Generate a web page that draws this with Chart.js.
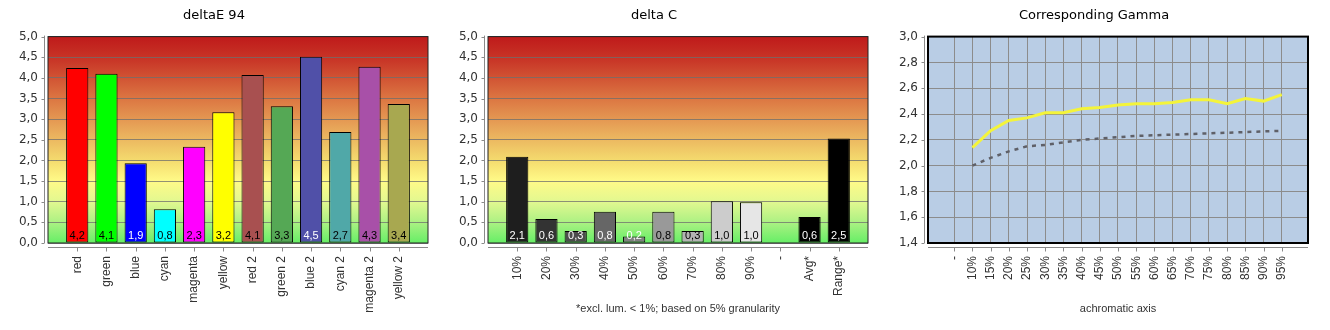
<!DOCTYPE html>
<html>
<head>
<meta charset="utf-8">
<script src="https://cdn.jsdelivr.net/npm/chart.js@4.4.0/dist/chart.umd.min.js"></script>
<style>
  body { margin: 0; background: #fff; width: 1330px; height: 330px; overflow: hidden; position: relative; }
  canvas { position: absolute; top: 0; }
</style>
</head>
<body>
<canvas id="deltaE" width="440" height="330" style="left:0"></canvas>
<canvas id="deltaC" width="440" height="330" style="left:440px"></canvas>
<canvas id="gamma" width="440" height="330" style="left:880px"></canvas>
<script>
// deltaE 94
const deLabels = ['red', 'green', 'blue', 'cyan', 'magenta', 'yellow', 'red 2', 'green 2', 'blue 2', 'cyan 2', 'magenta 2', 'yellow 2'];
const deValues = [4.24, 4.10, 1.93, 0.82, 2.33, 3.17, 4.07, 3.31, 4.51, 2.69, 4.27, 3.37];
const deColors = ['#ff0000', '#00ff00', '#0000ff', '#00ffff', '#ff00ff', '#ffff00',
                  '#a85050', '#55a855', '#5050a8', '#50a8a8', '#a850a8', '#a8a850'];
const deText = ['#000', '#000', '#fff', '#000', '#000', '#000', '#000', '#000', '#fff', '#000', '#000', '#000'];

// delta C
const dcLabels = ['10%', '20%', '30%', '40%', '50%', '60%', '70%', '80%', '90%', '-', 'Avg*', 'Range*'];
const dcValues = [2.09, 0.58, 0.29, 0.76, 0.16, 0.76, 0.29, 1.01, 0.99, null, 0.63, 2.53];
const dcColors = ['#1e1e1e', '#333333', '#4c4c4c', '#666666', '#808080', '#999999',
                  '#b3b3b3', '#cccccc', '#e6e6e6', '#000000', '#000000', '#000000'];
const dcText = ['#fff', '#fff', '#fff', '#fff', '#fff', '#000', '#000', '#000', '#000', '#000', '#fff', '#fff'];

// Corresponding Gamma
const gLabels = ['-', '10%', '15%', '20%', '25%', '30%', '35%', '40%', '45%', '50%',
                 '55%', '60%', '65%', '70%', '75%', '80%', '85%', '90%', '95%'];
const gMeasured = [null, 2.14, 2.27, 2.35, 2.37, 2.41, 2.41, 2.44, 2.45, 2.47,
                   2.48, 2.48, 2.49, 2.51, 2.51, 2.48, 2.52, 2.50, 2.55];
const gReference = [null, 2.00, 2.06, 2.11, 2.15, 2.16, 2.18, 2.20, 2.21, 2.22,
                    2.23, 2.235, 2.24, 2.245, 2.25, 2.255, 2.26, 2.265, 2.27];

Chart.defaults.font.family = 'DejaVu Sans';
Chart.defaults.color = '#333';
Chart.defaults.animation = false;

const pad = a => [null, ...a, null];
const fmt = v => v.toFixed(1).replace('.', ',');

// background, frame, separate axis lines and value labels
const frame = {
  id: 'frame',
  beforeDraw(chart, args, opts) {
    const { ctx, chartArea: a } = chart;
    ctx.save();
    if (opts.gradient) {
      const g = ctx.createLinearGradient(0, a.top, 0, a.bottom);
      g.addColorStop(0, '#bf1a1a');
      g.addColorStop(0.12, '#c93828');
      g.addColorStop(0.3, '#dc7642');
      g.addColorStop(0.45, '#e8a85a');
      g.addColorStop(0.6, '#f4db6e');
      g.addColorStop(0.7, '#fffa88');
      g.addColorStop(0.8, '#e2f890');
      g.addColorStop(0.9, '#acf183');
      g.addColorStop(1, '#66ee66');
      ctx.fillStyle = g;
    } else {
      ctx.fillStyle = opts.fill;
    }
    ctx.fillRect(a.left, a.top, a.width, a.height);
    ctx.restore();
  },
  afterDatasetsDraw(chart, args, opts) {
    if (!opts.textColors) return;
    const { ctx, chartArea: a } = chart;
    const ds = chart.data.datasets[0];
    ctx.save();
    ctx.font = '11px "Liberation Sans"';
    ctx.textAlign = 'center';
    ctx.textBaseline = 'middle';
    chart.getDatasetMeta(0).data.forEach((bar, i) => {
      const v = ds.data[i];
      if (v == null) return;
      ctx.fillStyle = opts.textColors[i];
      ctx.fillText(fmt(v), bar.x, a.bottom - 7);
    });
    ctx.restore();
  },
  afterDraw(chart, args, opts) {
    const { ctx, chartArea: a, scales } = chart;
    ctx.save();
    // plot border
    ctx.strokeStyle = opts.border;
    ctx.lineWidth = opts.borderWidth;
    ctx.strokeRect(a.left, a.top, a.width, a.height);
    // detached axis lines
    ctx.strokeStyle = '#8a8a8a';
    ctx.lineWidth = 1;
    ctx.beginPath();
    const ax = Math.round(a.left) - 3.5;
    ctx.moveTo(ax, a.top - 1);
    ctx.lineTo(ax, a.bottom);
    scales.y.ticks.forEach(t => {
      const y = Math.round(scales.y.getPixelForValue(t.value)) + 0.5;
      ctx.moveTo(ax - 3, y);
      ctx.lineTo(ax, y);
    });
    const ay = Math.round(a.bottom) + 4.5;
    ctx.moveTo(a.left, ay);
    ctx.lineTo(a.right, ay);
    scales.x.ticks.forEach((t, i) => {
      if (t.label === '') return;
      const x = Math.round(scales.x.getPixelForTick(i)) + 0.5;
      ctx.moveTo(x, ay);
      ctx.lineTo(x, ay + 4);
    });
    ctx.stroke();
    ctx.restore();
  }
};

function yAxis(min, max, step, gridColor) {
  return {
    min: min, max: max,
    afterFit(s) { s.width = 48; },
    border: { display: false },
    grid: { color: gridColor, drawTicks: false },
    ticks: { stepSize: step, padding: 10, font: { size: 12 }, callback: v => fmt(v) }
  };
}

// fixed height for the x axis, and no overflow padding from rotated end labels
function xFit(s) {
  s.height = 87;
  s.paddingLeft = 0;
  s.paddingRight = 0;
}

function xTicks() {
  return { minRotation: 90, maxRotation: 90, autoSkip: false, padding: 13,
           font: { family: 'Liberation Sans', size: 12 } };
}

function titleOpts(text) {
  return { display: true, text: text, color: '#000', font: { size: 13, weight: 'normal' },
           padding: { top: 8, bottom: 13 } };
}

function barChart(id, title, labels, values, colors, textColors, footnote) {
  return new Chart(document.getElementById(id), {
    type: 'bar',
    data: {
      labels: ['', ...labels, ''],
      datasets: [{
        data: pad(values),
        backgroundColor: pad(colors),
        borderColor: '#000',
        borderWidth: 1,
        borderSkipped: false,
        barPercentage: 0.76,
        categoryPercentage: 1
      }]
    },
    options: {
      responsive: false,
      devicePixelRatio: 1,
      layout: { padding: { left: 0, right: 12, top: 0, bottom: 0 } },
      plugins: {
        legend: { display: false },
        tooltip: { enabled: false },
        title: titleOpts(title),
        frame: { gradient: true, border: '#222', borderWidth: 1, textColors: pad(textColors) }
      },
      scales: {
        x: {
          offset: false,
          afterFit: xFit,
          border: { display: false },
          grid: { display: false, drawTicks: false },
          ticks: xTicks(),
          title: { display: !!footnote, text: footnote || '', color: '#333',
                   font: { family: 'Liberation Sans', size: 11 }, padding: { top: 0, bottom: 14 } }
        },
        y: yAxis(0, 5, 0.5, 'rgba(110,110,110,0.75)')
      }
    },
    plugins: [frame]
  });
}

barChart('deltaE', 'deltaE 94', deLabels, deValues, deColors, deText, null);
barChart('deltaC', 'delta C', dcLabels, dcValues, dcColors, dcText, '*excl. lum. < 1%; based on 5% granularity');

new Chart(document.getElementById('gamma'), {
  type: 'line',
  data: {
    datasets: [
      {
        data: gMeasured.map((v, i) => ({ x: i, y: v })),
        borderColor: '#f4f43a',
        borderWidth: 3,
        pointRadius: 0,
        tension: 0
      },
      {
        data: gReference.map((v, i) => ({ x: i, y: v })),
        borderColor: '#5f6068',
        borderWidth: 2.5,
        borderDash: [4, 5],
        pointRadius: 0,
        tension: 0
      }
    ]
  },
  options: {
    responsive: false,
    devicePixelRatio: 1,
    layout: { padding: { left: 0, right: 12, top: 0, bottom: 0 } },
    plugins: {
      legend: { display: false },
      tooltip: { enabled: false },
      title: titleOpts('Corresponding Gamma'),
      frame: { gradient: false, fill: '#b9cde5', border: '#000', borderWidth: 2 }
    },
    scales: {
      x: {
        type: 'linear',
        min: -1.44,
        max: gLabels.length - 1 + 1.44,
        afterBuildTicks(s) { s.ticks = gLabels.map((l, i) => ({ value: i })); },
        afterFit: xFit,
        border: { display: false },
        grid: { color: '#8c8c8c', drawTicks: false },
        ticks: Object.assign(xTicks(), { callback: v => gLabels[v] }),
        title: { display: true, text: 'achromatic axis', color: '#333',
                 font: { family: 'Liberation Sans', size: 11 }, padding: { top: 0, bottom: 14 } }
      },
      y: yAxis(1.4, 3.0, 0.2, '#8c8c8c')
    }
  },
  plugins: [frame]
});
</script>
</body>
</html>
